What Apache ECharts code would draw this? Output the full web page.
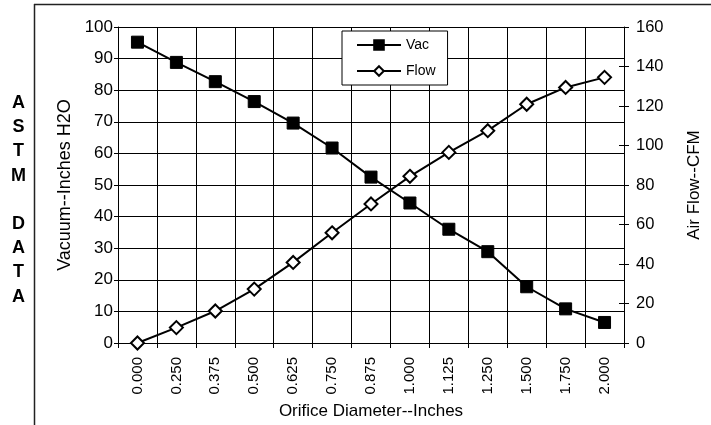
<!DOCTYPE html>
<html>
<head>
<meta charset="utf-8">
<script src="https://cdn.jsdelivr.net/npm/echarts@6/dist/echarts.min.js"></script>
<style>html,body{margin:0;padding:0;background:#fff}#c{width:711px;height:425px}</style>
</head>
<body>
<div id="c"></div>
<script>
var categories = ['0.000','0.250','0.375','0.500','0.625','0.750','0.875','1.000','1.125','1.250','1.500','1.750','2.000'];
var vac = [95.2, 88.8, 82.7, 76.4, 69.6, 61.7, 52.5, 44.3, 36.0, 28.9, 17.8, 10.8, 6.5];
var flow = [0, 7.8, 16.2, 27.3, 40.8, 55.8, 70.4, 84.4, 96.5, 107.5, 120.9, 129.4, 134.5];
var sideLetters = ['A','S','T','M','','D','A','T','A'];

var FONT = 'Liberation Sans, Arial, sans-serif';
var chart = echarts.init(document.getElementById('c'), null, {renderer: 'canvas'});

var graphics = [
  {type: 'line', shape: {x1: 34, y1: 4.5, x2: 711, y2: 4.5}, style: {stroke: '#222', lineWidth: 1.5}, silent: true},
  {type: 'line', shape: {x1: 34.5, y1: 4, x2: 34.5, y2: 425}, style: {stroke: '#222', lineWidth: 1.5}, silent: true}
];
sideLetters.forEach(function (l, i) {
  if (!l) return;
  graphics.push({type: 'text', silent: true,
    style: {text: l, x: 18.5, y: 103 + i * 24.2, font: 'bold 18px ' + FONT, fill: '#000',
            align: 'center', verticalAlign: 'middle'}});
});

var option = {
  animation: false,
  backgroundColor: '#fff',
  textStyle: {fontFamily: FONT},
  graphic: graphics,
  grid: {left: 118, right: 85, top: 27, bottom: 82, containLabel: false},
  legend: {
    orient: 'vertical', left: 342, top: 31,
    data: ['Vac', 'Flow'],
    backgroundColor: '#fff', borderColor: '#000', borderWidth: 1,
    padding: [7, 12, 7, 14],
    itemWidth: 44, itemHeight: 12, itemGap: 12,
    textStyle: {fontSize: 14, color: '#000', fontFamily: FONT}
  },
  xAxis: {
    type: 'category', data: categories, boundaryGap: true,
    axisLine: {lineStyle: {color: '#000', width: 1}},
    axisTick: {show: true, length: 5, lineStyle: {color: '#000'}},
    axisLabel: {rotate: 90, fontSize: 15, color: '#000', margin: 14, fontFamily: FONT},
    splitLine: {show: true, lineStyle: {color: '#000', width: 1}},
    name: 'Orifice Diameter--Inches', nameLocation: 'middle', nameGap: 57,
    nameTextStyle: {fontSize: 17, color: '#000', fontFamily: FONT}
  },
  yAxis: [
    {
      type: 'value', position: 'left', min: 0, max: 100, interval: 10,
      axisLine: {show: true, lineStyle: {color: '#000'}},
      axisTick: {show: true, length: 4, lineStyle: {color: '#000'}},
      axisLabel: {fontSize: 17, color: '#000', margin: 5, fontFamily: FONT},
      splitLine: {show: true, lineStyle: {color: '#000', width: 1}},
      name: 'Vacuum--Inches H2O', nameLocation: 'middle', nameGap: 42, nameRotate: 90,
      nameTextStyle: {fontSize: 18, color: '#000', fontFamily: FONT}
    },
    {
      type: 'value', position: 'right', min: 0, max: 160, interval: 20,
      axisLine: {show: true, lineStyle: {color: '#000'}},
      axisTick: {show: true, length: 5, lineStyle: {color: '#000'}},
      axisLabel: {fontSize: 16.5, color: '#000', margin: 12, fontFamily: FONT},
      splitLine: {show: false},
      name: 'Air Flow--CFM', nameLocation: 'middle', nameGap: 62, nameRotate: 90,
      nameTextStyle: {fontSize: 17, color: '#000', fontFamily: FONT}
    },
    {
      type: 'value', position: 'right', min: 0, max: 160, interval: 20,
      axisLine: {show: false},
      axisTick: {show: true, inside: true, length: 5, lineStyle: {color: '#000'}},
      axisLabel: {show: false},
      splitLine: {show: false}
    }
  ],
  series: [
    {
      name: 'Vac', type: 'line', yAxisIndex: 0, data: vac,
      symbol: 'rect', symbolSize: 12,
      lineStyle: {color: '#000', width: 2},
      itemStyle: {color: '#000', borderColor: '#000', borderWidth: 1}
    },
    {
      name: 'Flow', type: 'line', yAxisIndex: 1, data: flow,
      symbol: 'diamond', symbolSize: 13,
      lineStyle: {color: '#000', width: 2},
      itemStyle: {color: '#fff', borderColor: '#000', borderWidth: 2}
    }
  ]
};
chart.setOption(option);
</script>
</body>
</html>
